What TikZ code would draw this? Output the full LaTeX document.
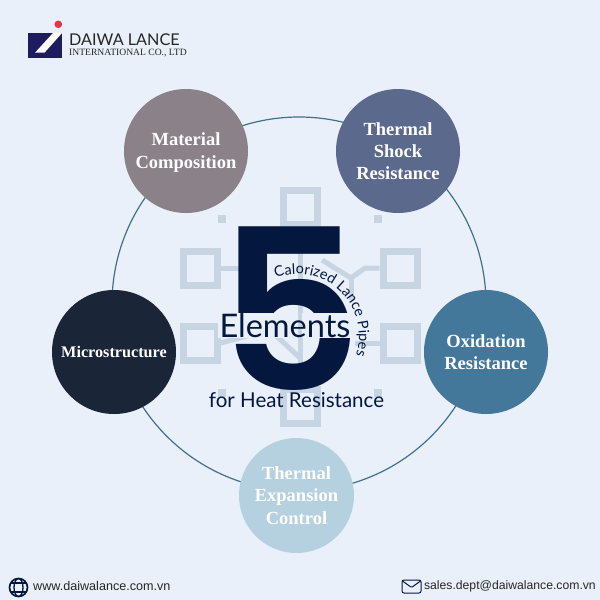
\documentclass[tikz,border=0pt]{standalone}
\usepackage{fontspec}
\setmainfont{Liberation Serif}
\newfontfamily\lato{Lato}
\newfontfamily\poppinssemi{Poppins SemiBold}
\newfontfamily\arial{Liberation Sans}
\usepackage{xcolor}
\usepackage{tikz}
\usetikzlibrary{positioning,decorations.text}
\definecolor{pagebg}{HTML}{E9F0F9}
\definecolor{navy}{HTML}{04183F}
\definecolor{ringc}{HTML}{41708A}
\definecolor{palec}{HTML}{C7D4E1}
\definecolor{matc}{HTML}{8A8288}
\definecolor{shockc}{HTML}{5B6A8C}
\definecolor{oxc}{HTML}{44789A}
\definecolor{expc}{HTML}{B5D0DE}
\definecolor{microc}{HTML}{1B2538}
\definecolor{logoc}{HTML}{1E1B5E}
\definecolor{dotc}{HTML}{E8334A}
\tikzset{
  element/.style={circle, minimum size=124pt, inner sep=0pt, align=center, text=white, font=\fontsize{18.5}{22.3}\selectfont\bfseries},
  pale/.style={draw=palec, line width=7pt, minimum size=34pt, inner sep=0pt},
  dot/.style={fill=palec, minimum size=8pt, inner sep=0pt},
  wire/.style={draw=palec, line width=5pt}
}
\begin{document}
\begin{tikzpicture}[x=1pt,y=-1pt]
    \useasboundingbox (0,0) rectangle (600,600);
    \fill[pagebg] (0,0) rectangle (600,600);

    \coordinate (hub) at (299,304);
    \draw[ringc, line width=1.2pt] (hub) circle (187pt);

    \node (top) [pale] at (300,207) {};
    \node (lup) [pale] at (200,268) {};
    \node (rup) [pale] at (400,268) {};
    \node (llow) [pale] at (200,343) {};
    \node (rlow) [pale] at (400,343) {};
    \node (bot) [pale] at (300,406) {};
    \node (dotA) [dot] at (222,219) {};
    \node (dotB) [dot] at (378,219) {};
    \node (dotC) [dot] at (222,393) {};
    \node (dotD) [dot] at (378,393) {};
    \coordinate (forkR) at (351,278);
    \coordinate (forkL) at (270,330);
    \draw[wire] (lup) -- (250,268);
    \draw[wire] (rup.west) -- (365,268) -- (forkR) -- (322,260);
    \draw[wire] (forkR) -- (351,300);
    \draw[wire] (llow.east) -- (forkL) -- (300,335);
    \draw[wire] (rlow) -- (355,343);
    \draw[wire] (top) -- (bot);
    \draw[wire] (forkL) -- (300,358);

    \node (five) [text=navy, inner sep=0pt, font=\poppinssemi\fontsize{224}{224}\selectfont] at (291,308.5) {5};
    \fill[pagebg] (218,313) rectangle (358,338);
    \draw[wire, line width=4pt] (300,313) -- (300,338);

    \node (elements) [text=navy, inner sep=0pt, font=\lato\fontsize{32.5}{36}\selectfont] at (285,326) {Elements};
    \node (heat) [text=navy, inner sep=0pt, font=\lato\fontsize{20.5}{24}\selectfont] at (296.5,400) {for Heat Resistance};

    \coordinate (bowl) at (297,336);
    \path[decorate, decoration={text along path, text align=center, text={|\lato\fontsize{14.5}{16}\selectfont\color{navy}|Calorized Lance Pipes}}]
        ([shift={(112:62pt)}]bowl) arc[start angle=112, end angle=-20, radius=62pt];

    \node (mat) [element, fill=matc] at (186,151) {\rule{0pt}{16pt}Material\\Composition};
    \node (shock) [element, fill=shockc] at (398,151) {Thermal\\Shock\\Resistance};
    \node (ox) [element, fill=oxc] at (486,352) {Oxidation\\Resistance};
    \node (exp) [element, fill=expc, minimum size=115pt] at (296.5,495.5) {Thermal\\Expansion\\Control};
    \node (micro) [element, fill=microc, font=\fontsize{16.2}{20}\selectfont\bfseries] at (114,352) {Microstructure};

    \fill[logoc] (28,33) rectangle (62,57.5);
    \fill[white] (35,52.7) -- (44.5,52.7) -- (62,33) -- (53,33) -- cycle;
    \fill[dotc] (58.3,24.3) circle (3.8pt);
    \node (daiwa) [anchor=west, inner sep=0pt, text=black!85, font=\lato\fontsize{16.2}{18}\selectfont] at (69,40) {DAIWA LANCE};
    \node (intl) [anchor=west, inner sep=0pt, text=black!85, font=\fontsize{9.6}{11}\selectfont] at (69,53.5) {INTERNATIONAL CO., LTD};

    \draw[navy, line width=1.7pt] (18.5,587.5) circle (9pt);
    \draw[navy, line width=1.3pt] (18.5,587.5) ellipse (4.5pt and 9pt);
    \draw[navy, line width=1.3pt] (11,583) -- (26,583);
    \draw[navy, line width=1.3pt] (11,592) -- (26,592);
    \node (web) [anchor=west, inner sep=0pt, text=black!85, font=\arial\fontsize{12.6}{14}\selectfont] at (33,586) {www.daiwalance.com.vn};

    \draw[navy, line width=1pt, rounded corners=2pt] (402,580) rectangle (421,593);
    \draw[navy, line width=1pt, rounded corners=1pt] (402.5,581) -- (411.5,587.5) -- (420.5,581);
    \node (mail) [anchor=east, inner sep=0pt, text=black!85, font=\arial\fontsize{12.2}{14}\selectfont] at (596,586) {sales.dept@daiwalance.com.vn};
\end{tikzpicture}
\end{document}
